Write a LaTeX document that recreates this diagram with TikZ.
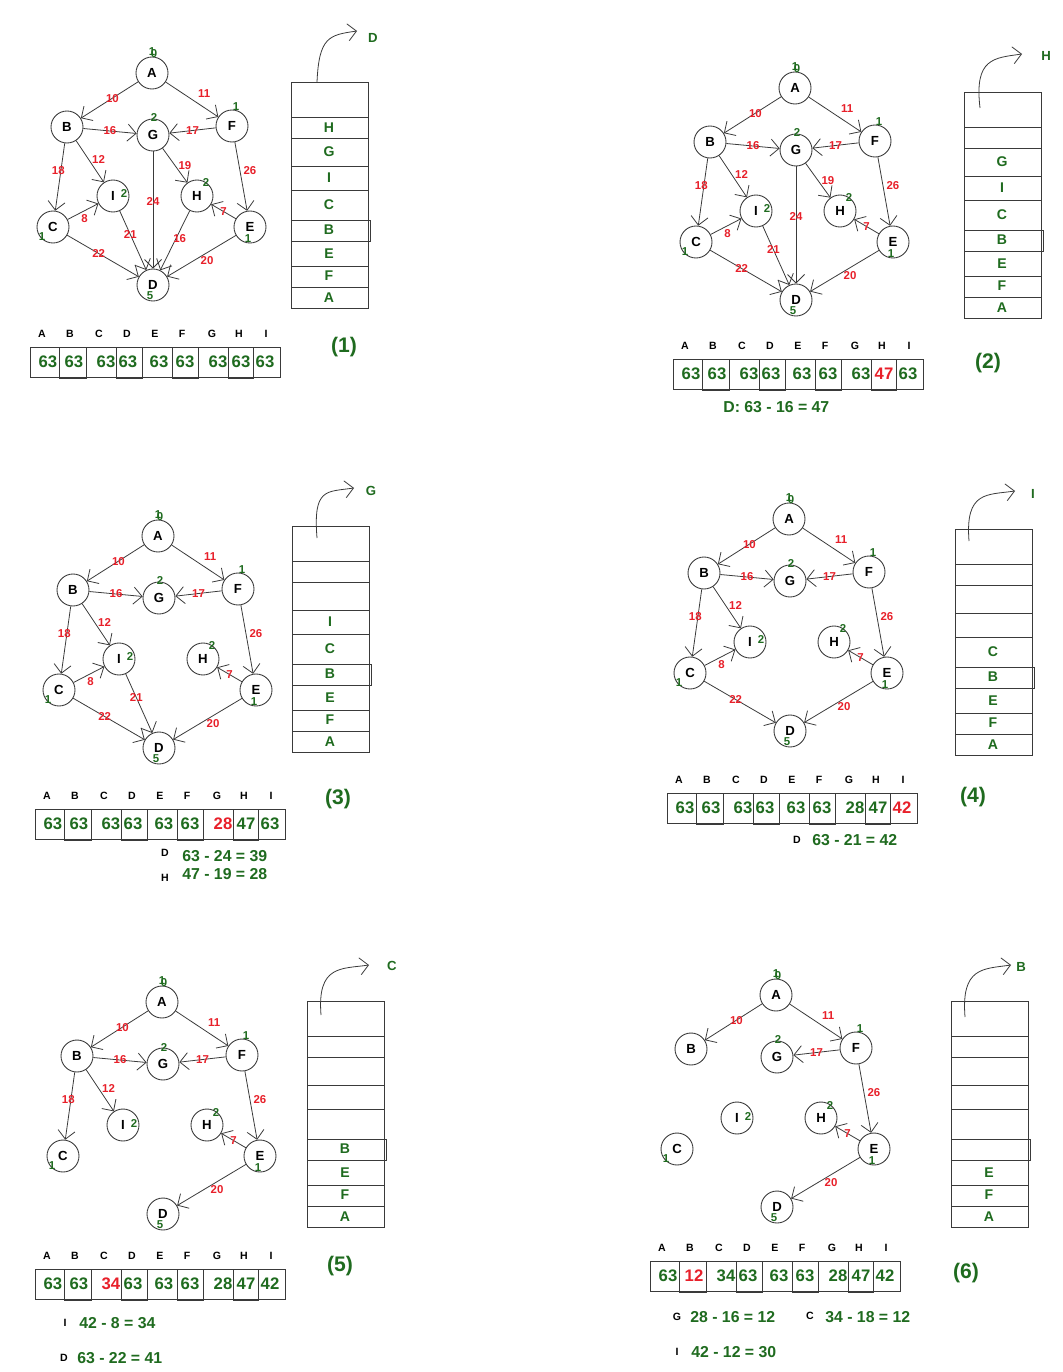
\documentclass[tikz,border=0pt]{standalone}
\usepackage{fontspec}
\setmainfont{Liberation Sans}
\usepackage{tikz}
\usetikzlibrary{arrows.meta}

\definecolor{dagreen}{HTML}{1F6B1F}
\definecolor{dared}{HTML}{E8202A}
\definecolor{linegray}{HTML}{3A3A3A}

% the nine vertices, A at the origin of the scope
\newcommand{\graphnodes}{%
  \node[vert] (A) at (0,0) {A};
  \node[vert] (B) at (-85,54) {B};
  \node[vert] (G) at (1,62) {G};
  \node[vert] (F) at (80,53) {F};
  \node[vert] (I) at (-39,123) {I};
  \node[vert] (H) at (45,123) {H};
  \node[vert] (C) at (-99,154) {C};
  \node[vert] (E) at (98,154) {E};
  \node[vert] (D) at (1,212) {D};
  % in-degrees
  \node[deg] (nA) at (2,-19) {0};
  \node[deg] (nB) at (0,-21) {1};
  \node[deg] (nG) at (2,45) {2};
  \node[deg] (nF) at (84,34) {1};
  \node[deg] (nI) at (-28,121) {2};
  \node[deg] (nH) at (54,110) {2};
  \node[deg] (nC) at (-110,164) {1};
  \node[deg] (nE) at (96,166) {1};
  \node[deg] (nD) at (-2,223) {5};
}

% distance array: #1 values, #2 index printed in red
\newcommand{\valrow}[2]{%
  \draw[cell] (0,0) rectangle (250,30);
  \foreach \a/\b in {29/56,86/112,142/168,198/223}
    \draw[cell] (\a,0) rectangle (\b,31);
  \foreach \h/\x in {A/12,B/40,C/69,D/97,E/125,F/152,G/182,H/209,I/236}
    \node[head] (h\h) at (\x,-13) {\h};
  \foreach \v [count=\i] in {#1} {
    \pgfmathsetmacro\vx{{18,44,76,98,129,155,188,211,235}[\i-1]}
    \node[val] (v\i) at (\vx,15) {\ifnum\i=#2 \color{dared}\fi\v};
  }
}

% empty stack
\newcommand{\stackframe}{%
  \draw[cell] (0,0) rectangle (77,226);
  \foreach \a/\b/\w in {35/56/77,84/108/77,138/159/79,184/205/77}
    \draw[cell] (0,\a) rectangle (\w,\b);
}

\begin{document}
\begin{tikzpicture}[x=0.2mm, y=-0.2mm,
  vert/.style={circle, draw=linegray, line width=0.5pt, minimum size=6.4mm,
    inner sep=0pt, font=\fontsize{7.5}{8}\selectfont\bfseries},
  deg/.style={font=\fontsize{6.5}{7}\selectfont\bfseries, text=dagreen, inner sep=0pt},
  edge/.style={draw=linegray, line width=0.45pt, -{Straight Barb[length=1.7mm,width=3.4mm]}},
  wt/.style={font=\fontsize{6.5}{7}\selectfont\bfseries, text=dared, inner sep=0.8pt},
  cell/.style={draw=linegray, line width=0.5pt},
  head/.style={font=\fontsize{6}{7}\selectfont\bfseries, inner sep=0pt},
  val/.style={font=\fontsize{9.5}{11}\selectfont\bfseries, text=dagreen, inner sep=0pt},
  slot/.style={font=\fontsize{8}{9}\selectfont\bfseries, text=dagreen, inner sep=0pt},
  popped/.style={font=\fontsize{7.5}{8}\selectfont\bfseries, text=dagreen, inner sep=0pt},
  pop/.style={draw=linegray, line width=0.45pt, -{Straight Barb[length=1.7mm,width=3.4mm]}},
  panelno/.style={font=\fontsize{12}{13}\selectfont\bfseries, text=dagreen},
  calcline/.style={font=\fontsize{9}{10}\selectfont\bfseries, text=dagreen, anchor=west, inner sep=0pt},
  which/.style={font=\fontsize{6}{7}\selectfont\bfseries, inner sep=0pt},
  % where each weight sits on its edge
  AB/.style={pos=.45}, AF/.style={pos=.55, above right=1pt},
  BG/.style={pos=.5}, FG/.style={pos=.5},
  BC/.style={pos=.4, xshift=-1.5pt}, BI/.style={pos=.45, right=1pt},
  GH/.style={pos=.5, right=1pt}, GD/.style={pos=.43},
  FE/.style={pos=.42, right=1pt}, CI/.style={pos=.55, below=1pt},
  ID/.style={pos=.4}, HD/.style={pos=.46, xshift=2pt},
  EH/.style={pos=.5}, CD/.style={pos=.44}, ED/.style={pos=.42, below=1pt}
]
\fill[white] (0,0) rectangle (1062,1372);
\useasboundingbox (0,0) rectangle (1062,1372);

% ---------------- (1)
\begin{scope}[shift={(152,73)}, name prefix=p1-]
  \graphnodes
  \foreach \s/\t/\w in {A/B/10, A/F/11, B/G/16, F/G/17, B/C/18, B/I/12, G/H/19,
      G/D/24, F/E/26, C/I/8, I/D/21, H/D/16, E/H/7, C/D/22, E/D/20}
    \draw[edge] (\s) -- node[wt,\s\t]{\w} (\t);
\end{scope}
\begin{scope}[shift={(291,82)}, name prefix=p1-]
  \stackframe
  \foreach \l/\y in {H/46,G/70,I/96,C/123,B/148,E/172,F/194,A/216}
    \node[slot] (s\l) at (38,\y) {\l};
  \coordinate (top) at (26,0);
  \coordinate (tip) at (66,-51);
  \node[popped] (out) at (82,-44) {D};
  \draw[pop] (top) .. controls +(2,-45) and +(-28,4) .. (tip);
\end{scope}
\begin{scope}[shift={(30,347)}, name prefix=p1-]
  \valrow{63,63,63,63,63,63,63,63,63}{0}
\end{scope}
\node[panelno] (lab1) at (344,347) {(1)};

% ---------------- (2)
\begin{scope}[shift={(795,88)}, name prefix=p2-]
  \graphnodes
  \foreach \s/\t/\w in {A/B/10, A/F/11, B/G/16, F/G/17, B/C/18, B/I/12, G/H/19,
      G/D/24, F/E/26, C/I/8, I/D/21, E/H/7, C/D/22, E/D/20}
    \draw[edge] (\s) -- node[wt,\s\t]{\w} (\t);
\end{scope}
\begin{scope}[shift={(964,92)}, name prefix=p2-]
  \stackframe
  \foreach \l/\y in {G/70,I/96,C/123,B/148,E/172,F/194,A/216}
    \node[slot] (s\l) at (38,\y) {\l};
  \coordinate (top) at (16,16);
  \coordinate (tip) at (58,-38);
  \node[popped] (out) at (82,-36) {H};
  \draw[pop] (top) .. controls +(-6,-50) and +(-28,4) .. (tip);
\end{scope}
\begin{scope}[shift={(673,359)}, name prefix=p2-]
  \valrow{63,63,63,63,63,63,63,47,63}{8}
\end{scope}
\node[calcline] (calc2) at (723,407) {D: 63 - 16 = 47};
\node[panelno] (lab2) at (988,363) {(2)};

% ---------------- (3)
\begin{scope}[shift={(158,536)}, name prefix=p3-]
  \graphnodes
  \foreach \s/\t/\w in {A/B/10, A/F/11, B/G/16, F/G/17, B/C/18, B/I/12,
      F/E/26, C/I/8, I/D/21, E/H/7, C/D/22, E/D/20}
    \draw[edge] (\s) -- node[wt,\s\t]{\w} (\t);
\end{scope}
\begin{scope}[shift={(292,526)}, name prefix=p3-]
  \stackframe
  \foreach \l/\y in {I/96,C/123,B/148,E/172,F/194,A/216}
    \node[slot] (s\l) at (38,\y) {\l};
  \coordinate (top) at (25,12);
  \coordinate (tip) at (62,-38);
  \node[popped] (out) at (79,-35) {G};
  \draw[pop] (top) .. controls +(-4,-50) and +(-28,4) .. (tip);
\end{scope}
\begin{scope}[shift={(35,809)}, name prefix=p3-]
  \valrow{63,63,63,63,63,63,28,47,63}{7}
\end{scope}
\node[which] (w3a) at (165,853) {D};
\node[calcline] (calc3a) at (182,856) {63 - 24 = 39};
\node[which] (w3b) at (165,878) {H};
\node[calcline] (calc3b) at (182,874) {47 - 19 = 28};
\node[panelno] (lab3) at (338,799) {(3)};

% ---------------- (4)
\begin{scope}[shift={(789,519)}, name prefix=p4-]
  \graphnodes
  \foreach \s/\t/\w in {A/B/10, A/F/11, B/G/16, F/G/17, B/C/18, B/I/12,
      F/E/26, C/I/8, E/H/7, C/D/22, E/D/20}
    \draw[edge] (\s) -- node[wt,\s\t]{\w} (\t);
\end{scope}
\begin{scope}[shift={(955,529)}, name prefix=p4-]
  \stackframe
  \foreach \l/\y in {C/123,B/148,E/172,F/194,A/216}
    \node[slot] (s\l) at (38,\y) {\l};
  \coordinate (top) at (14,12);
  \coordinate (tip) at (60,-38);
  \node[popped] (out) at (78,-35) {I};
  \draw[pop] (top) .. controls +(-4,-50) and +(-28,4) .. (tip);
\end{scope}
\begin{scope}[shift={(667,793)}, name prefix=p4-]
  \valrow{63,63,63,63,63,63,28,47,42}{9}
\end{scope}
\node[which] (w4a) at (797,840) {D};
\node[calcline] (calc4a) at (812,840) {63 - 21 = 42};
\node[panelno] (lab4) at (973,797) {(4)};

% ---------------- (5)
\begin{scope}[shift={(162,1002)}, name prefix=p5-]
  \graphnodes
  \foreach \s/\t/\w in {A/B/10, A/F/11, B/G/16, F/G/17, B/C/18, B/I/12,
      F/E/26, E/H/7, E/D/20}
    \draw[edge] (\s) -- node[wt,\s\t]{\w} (\t);
\end{scope}
\begin{scope}[shift={(307,1001)}, name prefix=p5-]
  \stackframe
  \foreach \l/\y in {B/148,E/172,F/194,A/216}
    \node[slot] (s\l) at (38,\y) {\l};
  \coordinate (top) at (14,14);
  \coordinate (tip) at (62,-36);
  \node[popped] (out) at (85,-35) {C};
  \draw[pop] (top) .. controls +(-4,-50) and +(-28,4) .. (tip);
\end{scope}
\begin{scope}[shift={(35,1269)}, name prefix=p5-]
  \valrow{63,63,34,63,63,63,28,47,42}{3}
\end{scope}
\node[which] (w5a) at (65,1323) {I};
\node[calcline] (calc5a) at (79,1323) {42 - 8 = 34};
\node[which] (w5b) at (64,1358) {D};
\node[calcline] (calc5b) at (77,1358) {63 - 22 = 41};
\node[panelno] (lab5) at (340,1266) {(5)};

% ---------------- (6)
\begin{scope}[shift={(776,995)}, name prefix=p6-]
  \graphnodes
  \foreach \s/\t/\w in {A/B/10, A/F/11, F/G/17, F/E/26, E/H/7, E/D/20}
    \draw[edge] (\s) -- node[wt,\s\t]{\w} (\t);
\end{scope}
\begin{scope}[shift={(951,1001)}, name prefix=p6-]
  \stackframe
  \foreach \l/\y in {E/172,F/194,A/216}
    \node[slot] (s\l) at (38,\y) {\l};
  \coordinate (top) at (14,16);
  \coordinate (tip) at (60,-36);
  \node[popped] (out) at (70,-34) {B};
  \draw[pop] (top) .. controls +(-4,-50) and +(-28,4) .. (tip);
\end{scope}
\begin{scope}[shift={(650,1261)}, name prefix=p6-]
  \valrow{63,12,34,63,63,63,28,47,42}{2}
\end{scope}
\node[which] (w6a) at (677,1317) {G};
\node[calcline] (calc6a) at (690,1317) {28 - 16 = 12};
\node[which] (w6b) at (810,1316) {C};
\node[calcline] (calc6b) at (825,1317) {34 - 18 = 12};
\node[which] (w6c) at (677,1352) {I};
\node[calcline] (calc6c) at (691,1352) {42 - 12 = 30};
\node[panelno] (lab6) at (966,1273) {(6)};

\end{tikzpicture}
\end{document}
